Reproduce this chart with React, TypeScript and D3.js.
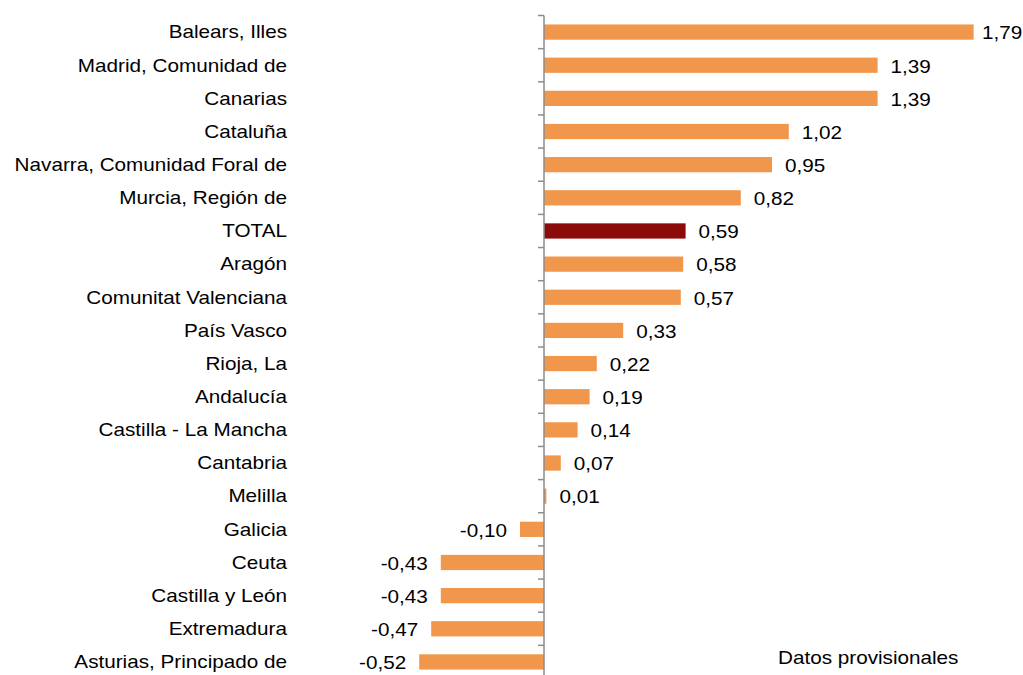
import { useEffect, useRef } from 'react';
import * as d3 from 'd3';

const regions = [
  'Balears, Illes',
  'Madrid, Comunidad de',
  'Canarias',
  'Cataluña',
  'Navarra, Comunidad Foral de',
  'Murcia, Región de',
  'TOTAL',
  'Aragón',
  'Comunitat Valenciana',
  'País Vasco',
  'Rioja, La',
  'Andalucía',
  'Castilla - La Mancha',
  'Cantabria',
  'Melilla',
  'Galicia',
  'Ceuta',
  'Castilla y León',
  'Extremadura',
  'Asturias, Principado de',
];

const values = [1.79, 1.39, 1.39, 1.02, 0.95, 0.82, 0.59, 0.58, 0.57, 0.33, 0.22, 0.19, 0.14, 0.07, 0.01, -0.1, -0.43, -0.43, -0.47, -0.52];

const highlight = 'TOTAL';
const note = 'Datos provisionales';

export default function App() {
  const svgRef = useRef<SVGSVGElement>(null);
  const width = 1023;
  const height = 675;

  useEffect(() => {
    if (!svgRef.current) return;
    const svg = d3.select(svgRef.current);
    svg.selectAll('*').remove();

    const font = '"Liberation Sans", Arial, sans-serif';
    const stretch = 1.15; // text in the original is a bit wider than Arial

    const x = d3.scaleLinear().domain([-0.6, 1.8]).range([400, 976]);
    const y = d3.scaleBand<string>()
      .domain(regions)
      .range([15.5, 678.5])
      .paddingInner(0.54)
      .paddingOuter(0.27);

    const data = regions.map((name, i) => ({ name, value: values[i] }));
    const fmt = (v: number) => d3.format('.2f')(v).replace('.', ',').replace('−', '-');
    const place = (px: number, py: number) => `translate(${px},${py}) scale(${stretch},1)`;

    // bars
    svg.append('g')
      .selectAll('rect')
      .data(data)
      .join('rect')
      .attr('x', (d) => x(Math.min(0, d.value)))
      .attr('y', (d) => y(d.name)!)
      .attr('width', (d) => Math.abs(x(d.value) - x(0)))
      .attr('height', y.bandwidth())
      .attr('fill', (d) => (d.name === highlight ? '#8B0A0A' : '#F0974C'));

    // axis line and ticks
    const x0 = x(0);
    const axis = svg.append('g').attr('stroke', '#8c8c8c').attr('stroke-width', 1.5);
    axis.append('line')
      .attr('x1', x0).attr('x2', x0)
      .attr('y1', 15.5).attr('y2', 678.5);
    const step = y.step();
    axis.selectAll('line.tick')
      .data(d3.range(regions.length + 1))
      .join('line')
      .attr('class', 'tick')
      .attr('x1', x0 - 6).attr('x2', x0)
      .attr('y1', (i) => 15.5 + i * step)
      .attr('y2', (i) => 15.5 + i * step);

    // category labels
    svg.append('g')
      .selectAll('text')
      .data(data)
      .join('text')
      .attr('transform', (d) => place(287, y(d.name)! + y.bandwidth() / 2))
      .attr('dy', '0.35em')
      .attr('text-anchor', 'end')
      .attr('font-family', font)
      .attr('font-size', 18)
      .attr('fill', '#000')
      .text((d) => d.name);

    // value labels (kept inside the right edge)
    svg.append('g')
      .selectAll('text')
      .data(data)
      .join('text')
      .attr('transform', (d) => place(
        d.value >= 0 ? Math.min(x(d.value) + 13, width - 41) : x(d.value) - 13,
        y(d.name)! + y.bandwidth() / 2 + 1,
      ))
      .attr('dy', '0.35em')
      .attr('text-anchor', (d) => (d.value >= 0 ? 'start' : 'end'))
      .attr('font-family', font)
      .attr('font-size', 18)
      .attr('fill', '#000')
      .text((d) => fmt(d.value));

    svg.append('text')
      .attr('transform', place(778, 664))
      .attr('font-family', font)
      .attr('font-size', 18)
      .attr('fill', '#000')
      .text(note);
  }, []);

  return (
    <svg
      ref={svgRef}
      width={width}
      height={height}
      style={{ position: 'absolute', left: 0, top: 0, background: '#fff' }}
    />
  );
}
